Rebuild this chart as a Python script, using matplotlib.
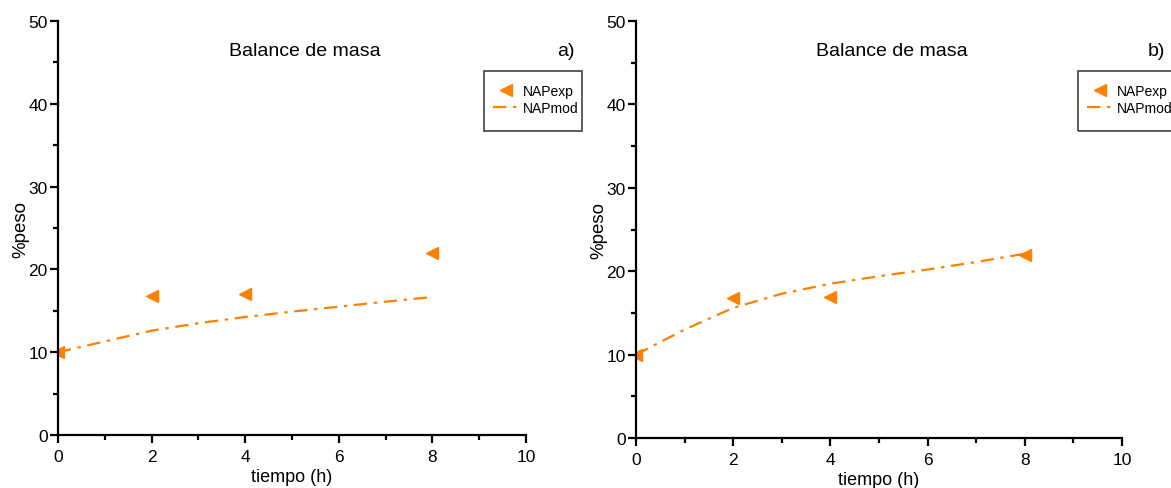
import matplotlib
matplotlib.use("Agg")
import matplotlib.pyplot as plt
from matplotlib.patches import Rectangle
from matplotlib.lines import Line2D
from matplotlib.ticker import MultipleLocator

plt.rcParams['font.family'] = ['Liberation Sans', 'DejaVu Sans']

# Data
t_exp = [0, 2, 4, 8]
nap_exp_a = [10, 16.8, 17.0, 22.0]
nap_exp_b = [10, 16.8, 16.9, 21.9]
t_mod = [0, 1, 2, 3, 4, 5, 6, 7, 8]
nap_mod_a = [10, 11.3, 12.6, 13.5, 14.25, 14.9, 15.5, 16.1, 16.67]
nap_mod_b = [10, 13.0, 15.6, 17.3, 18.5, 19.4, 20.2, 21.1, 22.1]

title = "Balance de masa"
xlabel = "tiempo (h)"
ylabel = "%peso"
labels = ["a)", "b)"]
leg_labels = ["NAPexp", "NAPmod"]

orange = '#FF8000'
W, H = 1171, 489
fig = plt.figure(figsize=(W/100, H/100), dpi=100)

def fx(px):
    return px / W

def fy(py):
    return 1 - py / H

axes_px = [(58, 526, 22, 436), (636, 1122, 22, 439)]
legend_px = [(484, 72, 98, 60), (1078, 72, 100, 60)]
label_px = [(566, 52), (1156, 52)]
title_px = [305, 892]
exps = [nap_exp_a, nap_exp_b]
mods = [nap_mod_a, nap_mod_b]

for i in range(2):
    l, r, t, b = axes_px[i]
    ax = fig.add_axes([fx(l), fy(b), fx(r) - fx(l), fy(t) - fy(b)])
    ax.plot(t_mod, mods[i], color=orange, linestyle=(0, (6, 3, 1.5, 3)), linewidth=1.6)
    ax.plot(t_exp, exps[i], linestyle='none', marker='<', color=orange, markersize=8.5)
    ax.set_xlim(0, 10)
    ax.set_ylim(0, 50)
    ax.xaxis.set_major_locator(MultipleLocator(2))
    ax.xaxis.set_minor_locator(MultipleLocator(1))
    ax.yaxis.set_major_locator(MultipleLocator(10))
    ax.yaxis.set_minor_locator(MultipleLocator(5))
    for s in ['top', 'right']:
        ax.spines[s].set_visible(False)
    for s in ['left', 'bottom']:
        ax.spines[s].set_linewidth(1.6)
    ax.tick_params(which='major', direction='out', length=6, width=1.6, labelsize=12.5)
    ax.tick_params(axis='x', which='major', pad=4)
    ax.tick_params(axis='y', which='major', pad=1.5)
    ax.tick_params(which='minor', direction='out', length=3.5, width=1.6)
    ax.set_xlabel(xlabel, fontsize=13, labelpad=3)
    ax.set_ylabel(ylabel, fontsize=13.5, labelpad=-1)
    ax.text(fx(title_px[i]), fy(52), title, transform=fig.transFigure,
            ha='center', va='center', fontsize=14)
    lx, ly = label_px[i]
    fig.text(fx(lx), fy(ly), labels[i], ha='center', va='center', fontsize=14)

    # legend
    bx, by, bw, bh = legend_px[i]
    fig.patches.append(Rectangle((fx(bx), fy(by + bh)), bw / W, bh / H, transform=fig.transFigure,
                                 fill=False, edgecolor='#404040', linewidth=1.2))
    handles = [Line2D([], [], linestyle='none', marker='<', color=orange, markersize=8.5),
               Line2D([], [], color=orange, linestyle=(0, (6, 3, 1.5, 3)), linewidth=1.6)]
    fig.legend(handles, leg_labels, loc='upper left', bbox_to_anchor=(fx(bx - 1), fy(by + 3)),
               frameon=False, fontsize=10, handlelength=1.9, handletextpad=0.25,
               labelspacing=0.25, borderpad=0.2)

fig.savefig('out.png', dpi=100)
